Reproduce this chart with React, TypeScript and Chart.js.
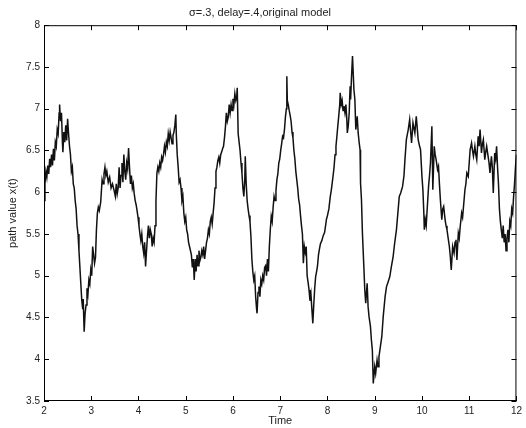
import React, { useEffect, useRef } from "react";
import { Chart, registerables } from "chart.js";

Chart.register(...registerables);

const chartTitle = "σ=.3, delay=.4,original model";
const xAxisTitle = "Time";
const yAxisTitle = "path value x(t)";

const xTickValues = [2, 3, 4, 5, 6, 7, 8, 9, 10, 11, 12];
const xTickLabels = ["2", "3", "4", "5", "6", "7", "8", "9", "10", "11", "12"];
const yTickValues = [3.5, 4, 4.5, 5, 5.5, 6, 6.5, 7, 7.5, 8];
const yTickLabels = ["3.5", "4", "4.5", "5", "5.5", "6", "6.5", "7", "7.5", "8"];

const times = [
  2.00, 2.02, 2.04, 2.06, 2.08, 2.10, 2.12, 2.14, 2.16, 2.18, 2.20, 2.22, 2.24, 2.26, 2.28, 2.30, 2.32, 2.33, 2.35, 2.37,
  2.39, 2.40, 2.42, 2.44, 2.46, 2.48, 2.50, 2.52, 2.54, 2.56, 2.58, 2.60, 2.62, 2.64, 2.66, 2.68, 2.70, 2.72, 2.74, 2.76,
  2.78, 2.80, 2.82, 2.83, 2.85, 2.87, 2.89, 2.91, 2.93, 2.95, 2.97, 2.99, 3.01, 3.03, 3.05, 3.07, 3.09, 3.11, 3.13, 3.15,
  3.17, 3.20, 3.23, 3.25, 3.27, 3.29, 3.31, 3.33, 3.36, 3.39, 3.42, 3.45, 3.48,
  3.51, 3.53, 3.55, 3.57, 3.59, 3.61, 3.63, 3.65, 3.67, 3.69, 3.71, 3.73, 3.75, 3.77, 3.79, 3.81, 3.83, 3.85, 3.87, 3.89,
  3.91, 3.93, 3.95, 3.97, 3.99, 4.01, 4.03, 4.05, 4.07, 4.09, 4.11, 4.13, 4.15, 4.17, 4.19, 4.21, 4.23, 4.25, 4.27, 4.29,
  4.31, 4.33, 4.35, 4.37, 4.39, 4.41, 4.43, 4.45, 4.47, 4.49, 4.51, 4.53, 4.55, 4.57, 4.59, 4.61, 4.63, 4.65, 4.67, 4.69,
  4.71, 4.73, 4.75, 4.77, 4.79, 4.80, 4.82, 4.84, 4.86, 4.88, 4.90, 4.92, 4.94, 4.96, 4.98, 5.00, 5.02, 5.04, 5.06, 5.08,
  5.10, 5.12, 5.14, 5.16,
  5.18, 5.20, 5.22, 5.24, 5.26, 5.28, 5.30, 5.32, 5.34, 5.36, 5.38, 5.40, 5.42, 5.44, 5.46, 5.48, 5.50, 5.52, 5.54, 5.56,
  5.58, 5.60, 5.62, 5.64, 5.66, 5.68, 5.70, 5.72, 5.74, 5.76, 5.78, 5.80, 5.82, 5.84, 5.86, 5.88, 5.90, 5.92, 5.94, 5.96,
  5.98, 6.00, 6.02, 6.04, 6.06, 6.08, 6.09, 6.11, 6.13, 6.15, 6.17, 6.19, 6.21, 6.23, 6.25, 6.26, 6.28, 6.30, 6.32, 6.34,
  6.36, 6.38, 6.40, 6.42, 6.44, 6.46, 6.48, 6.50, 6.51, 6.53, 6.55, 6.57, 6.59, 6.61, 6.63, 6.65, 6.67, 6.69, 6.71, 6.73,
  6.75, 6.77,
  6.79, 6.81, 6.83, 6.85, 6.87, 6.89, 6.91, 6.93, 6.95, 6.97, 6.99, 7.01, 7.03, 7.05, 7.07, 7.09, 7.11, 7.13, 7.14, 7.15,
  7.17, 7.19, 7.21, 7.23, 7.25, 7.27, 7.29, 7.31, 7.33, 7.35, 7.37, 7.39, 7.41, 7.43, 7.45, 7.47, 7.49, 7.51, 7.53, 7.55,
  7.57, 7.59, 7.61, 7.63, 7.65, 7.67, 7.69, 7.71, 7.73, 7.75, 7.77, 7.79, 7.81, 7.83, 7.85, 7.88, 7.91, 7.94, 7.96, 7.98,
  8.00, 8.03, 8.06, 8.08, 8.10, 8.12, 8.14, 8.16, 8.18, 8.20, 8.22, 8.24, 8.26, 8.27, 8.29, 8.31, 8.33, 8.35, 8.37, 8.39,
  8.41,
  8.42, 8.44, 8.46, 8.48, 8.49, 8.51, 8.53, 8.56, 8.58, 8.60, 8.63, 8.65, 8.67, 8.69, 8.70, 8.72, 8.74, 8.77, 8.79, 8.81,
  8.84, 8.86, 8.88, 8.91, 8.93, 8.95, 8.97, 9.00, 9.02, 9.05, 9.07, 9.09, 9.12, 9.15, 9.18, 9.22, 9.25, 9.28, 9.32, 9.35,
  9.39, 9.42, 9.46, 9.49, 9.52, 9.55, 9.59, 9.62, 9.64, 9.67, 9.71, 9.74, 9.78, 9.81, 9.85, 9.88, 9.92, 9.95, 9.97, 10.00,
  10.02, 10.04, 10.05, 10.07, 10.09, 10.11, 10.14, 10.16, 10.18, 10.21, 10.23, 10.26, 10.28, 10.30, 10.33, 10.35, 10.37, 10.39, 10.42, 10.44,
  10.46, 10.49, 10.51, 10.53, 10.56, 10.58, 10.60, 10.62, 10.65, 10.68, 10.70, 10.72, 10.74, 10.77, 10.79, 10.81, 10.84, 10.86, 10.88, 10.91,
  10.93, 10.95, 10.98, 11.00, 11.02, 11.05, 11.07, 11.09, 11.12, 11.14, 11.16, 11.19, 11.21, 11.23, 11.26, 11.28, 11.30, 11.33, 11.35, 11.37,
  11.40, 11.42, 11.44, 11.47, 11.49, 11.51, 11.54, 11.56, 11.58, 11.60, 11.62, 11.64, 11.66, 11.68, 11.70, 11.72, 11.74, 11.76, 11.78, 11.80,
  11.82, 11.84, 11.86, 11.88, 11.90, 11.92, 11.94, 11.96, 11.98, 12.00,
];

const values = [
  5.90, 6.10, 6.25, 6.18, 6.32, 6.22, 6.40, 6.30, 6.45, 6.32, 6.52, 6.38, 6.60, 6.55, 6.75, 6.70, 6.95, 7.05, 6.85, 6.95,
  6.60, 6.48, 6.72, 6.60, 6.80, 6.62, 6.88, 6.70, 6.55, 6.45, 6.25, 6.30, 6.10, 6.05, 5.90, 5.80, 5.60, 5.50, 5.30, 5.10,
  4.90, 4.70, 4.60, 4.72, 4.33, 4.55, 4.65, 4.85, 4.78, 4.95, 4.90, 5.07, 5.00, 5.35, 5.25, 5.15, 5.22, 5.55, 5.75, 5.82,
  5.78, 5.88, 6.15, 6.10, 6.22, 6.30, 6.20, 6.25, 6.12, 6.18, 6.05, 6.10, 6.03,
  5.95, 6.10, 5.98, 6.05, 6.30, 6.05, 6.20, 6.35, 6.12, 6.45, 6.25, 6.15, 6.35, 6.28, 6.53, 6.30, 6.10, 6.20, 6.05, 6.10,
  5.98, 5.90, 5.85, 5.78, 5.70, 5.60, 5.50, 5.42, 5.50, 5.35, 5.27, 5.40, 5.11, 5.30, 5.47, 5.60, 5.45, 5.55, 5.50, 5.35,
  5.45, 5.40, 5.60, 5.90, 6.23, 6.30, 6.25, 6.35, 6.30, 6.42, 6.38, 6.45, 6.55, 6.48, 6.60, 6.55, 6.70, 6.62, 6.72, 6.65,
  6.58, 6.68, 6.72, 6.80, 6.93, 6.70, 6.45, 6.30, 6.12, 6.15, 6.05, 5.90, 5.95, 5.75, 5.65, 5.70, 5.55, 5.50, 5.40, 5.35,
  5.30, 5.25, 5.10, 5.20,
  4.95, 5.20, 5.05, 5.25, 5.12, 5.30, 5.18, 5.22, 5.30, 5.25, 5.35, 5.20, 5.30, 5.40, 5.45, 5.55, 5.50, 5.65, 5.70, 5.62,
  5.75, 5.87, 6.05, 6.25, 6.30, 6.38, 6.42, 6.35, 6.45, 6.48, 6.52, 6.55, 6.65, 6.78, 6.95, 6.85, 6.90, 7.05, 6.95, 7.05,
  6.98, 7.12, 7.05, 7.18, 7.10, 7.15, 7.25, 6.70, 6.60, 6.50, 6.35, 6.23, 6.05, 5.95, 6.15, 6.43, 6.10, 5.90, 5.80, 5.72,
  5.65, 5.47, 5.20, 5.05, 4.95, 5.00, 4.75, 4.60, 4.55, 4.80, 4.87, 4.75, 4.95, 4.90, 5.00, 4.95, 5.10, 5.12, 5.00, 5.20,
  5.05, 5.35,
  5.55, 5.71, 5.65, 5.82, 5.95, 5.90, 6.02, 6.15, 6.22, 6.35, 6.40, 6.50, 6.58, 6.67, 6.65, 6.75, 6.90, 7.00, 7.39, 7.10,
  7.05, 6.98, 6.92, 6.85, 6.72, 6.65, 6.50, 6.40, 6.25, 6.15, 6.05, 5.92, 5.85, 5.72, 5.60, 5.50, 5.15, 5.35, 5.28, 5.35,
  5.00, 4.92, 4.83, 4.70, 4.78, 4.60, 4.43, 4.65, 4.85, 4.99, 5.05, 5.12, 5.25, 5.32, 5.38, 5.42, 5.48, 5.52, 5.60, 5.68,
  5.72, 5.80, 5.95, 6.02, 6.11, 6.20, 6.30, 6.45, 6.55, 6.67, 6.80, 6.92, 7.05, 7.19, 7.05, 7.10, 6.98, 7.03, 6.95, 7.05,
  6.87,
  6.71, 6.79, 6.95, 7.27, 7.11, 7.39, 7.63, 7.23, 7.11, 6.75, 6.91, 6.71, 6.60, 6.51, 6.11, 5.91, 5.51, 5.11, 4.83, 4.67,
  4.91, 4.63, 4.51, 4.39, 4.23, 4.11, 3.71, 3.91, 3.83, 3.99, 3.91, 4.03, 4.15, 4.27, 4.51, 4.75, 4.87, 4.92, 4.99, 5.10,
  5.23, 5.38, 5.55, 5.75, 5.95, 5.99, 6.07, 6.20, 6.39, 6.63, 6.75, 6.87, 6.59, 6.83, 6.71, 6.91, 6.63, 6.55, 6.51, 6.19,
  6.03, 5.75, 5.55, 5.67, 5.60, 5.79, 6.07, 6.20, 6.35, 6.79, 6.03, 6.55, 6.45, 6.39, 6.27, 6.31, 6.10, 5.91, 5.67, 5.80,
  5.83, 5.67, 5.60, 5.55, 5.43, 5.35, 5.23, 5.07, 5.35, 5.27, 5.40, 5.43, 5.19, 5.51, 5.45, 5.59, 5.75, 5.70, 5.83, 6.03,
  6.10, 6.23, 6.19, 6.35, 6.51, 6.59, 6.50, 6.43, 6.55, 6.45, 6.39, 6.67, 6.55, 6.75, 6.47, 6.58, 6.63, 6.39, 6.48, 6.55,
  6.43, 6.35, 6.23, 6.43, 6.30, 5.99, 6.47, 6.40, 6.55, 6.30, 6.10, 5.80, 5.65, 5.55, 5.45, 5.60, 5.40, 5.50, 5.30, 5.45,
  5.55, 5.40, 5.65, 5.60, 5.80, 5.75, 5.95, 6.10, 6.30, 6.45,
];

const W = 526;
const H = 428;
const AREA_LEFT = 44;
const AREA_RIGHT = 520;
const AREA_BOTTOM = 401;
const FONT = "'Liberation Sans', Arial, Helvetica, sans-serif";

const frameAndTicks = {
  id: "frameAndTicks",
  afterDraw(chart: any) {
    const { ctx, chartArea, scales } = chart;
    const { left, right, top, bottom } = chartArea;
    const len = 5;
    ctx.save();
    ctx.strokeStyle = "#000";
    ctx.lineWidth = 1;
    ctx.beginPath();
    ctx.rect(left + 0.5, top + 0.5, right - left - 1, bottom - top - 1);
    ctx.stroke();
    ctx.beginPath();
    for (const v of xTickValues) {
      const x = Math.round(scales.x.getPixelForValue(v)) + 0.5;
      ctx.moveTo(x, bottom);
      ctx.lineTo(x, bottom - len);
      ctx.moveTo(x, top);
      ctx.lineTo(x, top + len);
    }
    for (const v of yTickValues) {
      const y = Math.round(scales.y.getPixelForValue(v)) + 0.5;
      ctx.moveTo(left, y);
      ctx.lineTo(left + len, y);
      ctx.moveTo(right, y);
      ctx.lineTo(right - len, y);
    }
    ctx.stroke();
    ctx.restore();
  },
};

export default function App() {
  const canvasRef = useRef<HTMLCanvasElement | null>(null);

  useEffect(() => {
    document.body.style.margin = "0";
    const canvas = canvasRef.current;
    if (!canvas) return;
    const data = times.map((t, i) => ({ x: t, y: values[i] }));
    const chart = new Chart(canvas, {
      type: "line",
      data: {
        datasets: [
          {
            data,
            borderColor: "#111111",
            borderWidth: 1.5,
            pointRadius: 0,
            tension: 0,
            fill: false,
          },
        ],
      },
      options: {
        responsive: false,
        animation: false,
        events: [],
        layout: { padding: { left: 0, right: W - AREA_RIGHT, top: 0, bottom: 0 } },
        plugins: {
          legend: { display: false },
          tooltip: { enabled: false },
          title: {
            display: true,
            text: chartTitle,
            color: "#222",
            font: { family: FONT, size: 11, weight: "normal" },
            padding: { top: 6, bottom: 6 },
          },
        },
        scales: {
          x: {
            type: "linear",
            min: 2,
            max: 12,
            afterBuildTicks: (scale: any) => {
              scale.ticks = xTickValues.map((v) => ({ value: v }));
            },
            afterFit: (scale: any) => {
              scale.height = H - AREA_BOTTOM;
            },
            grid: { display: false, drawTicks: false },
            border: { display: false },
            ticks: {
              color: "#222",
              font: { family: FONT, size: 10 },
              padding: 4,
              maxRotation: 0,
              autoSkip: false,
              callback: (_v: any, i: number) => xTickLabels[i],
            },
            title: {
              display: true,
              text: xAxisTitle,
              color: "#222",
              font: { family: FONT, size: 11 },
              padding: { top: 0, bottom: 0 },
            },
          },
          y: {
            type: "linear",
            min: 3.5,
            max: 8,
            afterBuildTicks: (scale: any) => {
              scale.ticks = yTickValues.map((v) => ({ value: v }));
            },
            afterFit: (scale: any) => {
              scale.width = AREA_LEFT;
            },
            grid: { display: false, drawTicks: false },
            border: { display: false },
            ticks: {
              color: "#222",
              font: { family: FONT, size: 10 },
              padding: 4,
              autoSkip: false,
              callback: (_v: any, i: number) => yTickLabels[i],
            },
            title: {
              display: true,
              text: yAxisTitle,
              color: "#222",
              font: { family: FONT, size: 11 },
              padding: { top: 6, bottom: 0 },
            },
          },
        },
      },
      plugins: [frameAndTicks],
    });
    return () => chart.destroy();
  }, []);

  return (
    <div style={{ position: "fixed", left: 0, top: 0, width: W, height: H, background: "#fff" }}>
      <canvas ref={canvasRef} width={W} height={H} style={{ display: "block" }} />
    </div>
  );
}
